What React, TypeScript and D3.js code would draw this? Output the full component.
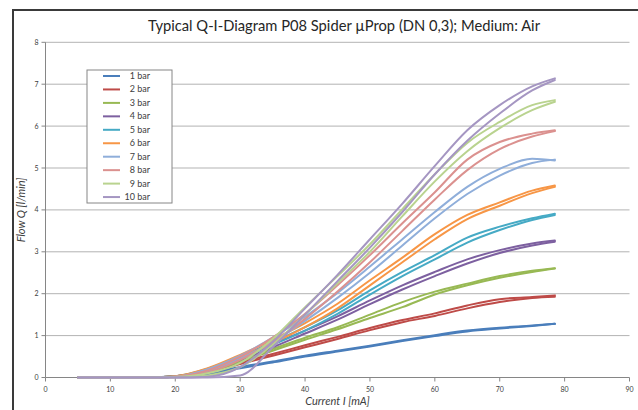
import React from "react";
import * as d3 from "d3";

const W = 638;
const H = 410;

const titleText = "Typical Q-I-Diagram P08 Spider µProp (DN 0,3); Medium: Air";
const xLabel = "Current I [mA]";
const yLabel = "Flow Q [l/min]";

const xTicks = [0, 10, 20, 30, 40, 50, 60, 70, 80, 90];
const yTicks = [0, 1, 2, 3, 4, 5, 6, 7, 8];

const seriesNames = ["1 bar", "2 bar", "3 bar", "4 bar", "5 bar", "6 bar", "7 bar", "8 bar", "9 bar", "10 bar"];
const seriesColors = ["#4A7EBB", "#BE4B48", "#98B954", "#7D60A0", "#46AAC5", "#F79646", "#8FAEDA", "#DB918F", "#B9D38F", "#A596C2"];

// current (mA) sample points
const current = [5, 15, 20, 25, 30, 35, 40, 45, 50, 55, 60, 65, 70, 75, 78.5];

// rising branch (lower curve) per series
const flowUp1 = [0, 0, 0.02, 0.08, 0.22, 0.36, 0.5, 0.62, 0.74, 0.87, 0.99, 1.1, 1.17, 1.23, 1.28];
const flowUp2 = [0, 0, 0.02, 0.12, 0.32, 0.52, 0.72, 0.92, 1.13, 1.32, 1.47, 1.65, 1.8, 1.9, 1.93];
const flowUp3 = [0, 0, 0.02, 0.14, 0.38, 0.64, 0.9, 1.15, 1.42, 1.68, 1.98, 2.2, 2.38, 2.52, 2.6];
const flowUp4 = [0, 0, 0.02, 0.15, 0.42, 0.72, 1.05, 1.38, 1.75, 2.1, 2.42, 2.72, 2.97, 3.15, 3.24];
const flowUp5 = [0, 0, 0.02, 0.17, 0.45, 0.78, 1.12, 1.52, 1.98, 2.42, 2.82, 3.22, 3.52, 3.76, 3.88];
const flowUp6 = [0, 0, 0.02, 0.18, 0.48, 0.82, 1.2, 1.65, 2.2, 2.75, 3.3, 3.78, 4.1, 4.4, 4.55];
const flowUp7 = [0, 0, 0.01, 0.15, 0.45, 0.85, 1.35, 1.9, 2.5, 3.15, 3.8, 4.38, 4.82, 5.12, 5.2];
const flowUp8 = [0, 0, 0.01, 0.12, 0.42, 0.85, 1.4, 2.05, 2.75, 3.5, 4.25, 4.95, 5.45, 5.75, 5.88];
const flowUp9 = [0, 0, 0, 0.05, 0.25, 0.78, 1.5, 2.25, 3.0, 3.85, 4.68, 5.4, 5.95, 6.38, 6.58];
const flowUp10 = [0, 0, 0, 0, 0.05, 0.72, 1.5, 2.3, 3.1, 3.95, 4.85, 5.65, 6.3, 6.85, 7.1];

// falling branch (upper curve) per series
const flowDown1 = [0, 0, 0.03, 0.1, 0.25, 0.38, 0.52, 0.64, 0.76, 0.89, 1.01, 1.12, 1.19, 1.24, 1.28];
const flowDown2 = [0, 0, 0.03, 0.15, 0.36, 0.56, 0.77, 0.97, 1.18, 1.37, 1.53, 1.72, 1.87, 1.92, 1.96];
const flowDown3 = [0, 0, 0.03, 0.17, 0.42, 0.68, 0.95, 1.2, 1.5, 1.8, 2.05, 2.24, 2.42, 2.55, 2.61];
const flowDown4 = [0, 0, 0.03, 0.19, 0.48, 0.8, 1.12, 1.46, 1.84, 2.2, 2.52, 2.82, 3.04, 3.2, 3.27];
const flowDown5 = [0, 0, 0.03, 0.21, 0.5, 0.84, 1.2, 1.6, 2.08, 2.52, 2.92, 3.34, 3.6, 3.8, 3.91];
const flowDown6 = [0, 0, 0.03, 0.22, 0.54, 0.9, 1.3, 1.76, 2.32, 2.86, 3.42, 3.88, 4.18, 4.46, 4.58];
const flowDown7 = [0, 0, 0.02, 0.2, 0.52, 0.95, 1.45, 2.02, 2.65, 3.3, 3.95, 4.55, 4.98, 5.22, 5.18];
const flowDown8 = [0, 0, 0.02, 0.17, 0.5, 0.95, 1.52, 2.2, 2.92, 3.68, 4.42, 5.2, 5.62, 5.82, 5.9];
const flowDown9 = [0, 0, 0.01, 0.1, 0.35, 0.92, 1.68, 2.42, 3.18, 4.02, 4.85, 5.6, 6.1, 6.5, 6.62];
const flowDown10 = [0, 0, 0, 0.02, 0.25, 0.85, 1.65, 2.45, 3.3, 4.15, 5.05, 5.9, 6.5, 6.95, 7.14];

const upBranches = [flowUp1, flowUp2, flowUp3, flowUp4, flowUp5, flowUp6, flowUp7, flowUp8, flowUp9, flowUp10];
const downBranches = [flowDown1, flowDown2, flowDown3, flowDown4, flowDown5, flowDown6, flowDown7, flowDown8, flowDown9, flowDown10];

export default function App() {
  const x = d3.scaleLinear().domain([0, 90]).range([45.5, 629.5]);
  const y = d3.scaleLinear().domain([0, 8]).range([377.5, 42.3]);

  const line = d3
    .line<[number, number]>()
    .x((d) => x(d[0]))
    .y((d) => y(d[1]))
    .curve(d3.curveMonotoneX);

  const legendX = 87;
  const legendY = 70;
  const legendW = 85;
  const legendH = 133;
  const rowH = 13.45;

  const axisColor = "#868686";
  const gridColor = "#B3B3B3";
  const textColor = "#404040";
  const font = "Lato, 'Open Sans', sans-serif";

  return (
    <svg
      width={W}
      height={H}
      style={{ position: "absolute", left: 0, top: 0, background: "#fff" }}
      fontFamily={font}
    >
      <rect x={0} y={0} width={W} height={H} fill="#fff" />
      {/* outer frame */}
      <rect x={13} y={10} width={700} height={500} fill="none" stroke="#3a3a3a" strokeWidth={2} />

      {/* title */}
      <text
        x={344}
        y={31}
        textAnchor="middle"
        fontSize={15}
        fill="#262626"
        textLength={392}
        lengthAdjust="spacingAndGlyphs"
      >
        {titleText}
      </text>

      {/* gridlines */}
      {yTicks.filter((t) => t > 0).map((t) => (
        <line key={"g" + t} x1={x(0)} x2={x(90)} y1={y(t)} y2={y(t)} stroke={gridColor} strokeWidth={1} />
      ))}

      {/* axes */}
      <line x1={x(0)} x2={x(0)} y1={y(0)} y2={y(8)} stroke={axisColor} strokeWidth={1} />
      <line x1={x(0)} x2={x(90)} y1={y(0)} y2={y(0)} stroke={axisColor} strokeWidth={1} />
      {yTicks.map((t) => (
        <g key={"yt" + t}>
          <line x1={x(0) - 4} x2={x(0)} y1={y(t)} y2={y(t)} stroke={axisColor} />
          <text x={x(0) - 7} y={y(t) + 2.5} textAnchor="end" fontSize={7} fill={textColor}>
            {t}
          </text>
        </g>
      ))}
      {xTicks.map((t) => (
        <g key={"xt" + t}>
          <line x1={x(t)} x2={x(t)} y1={y(0)} y2={y(0) + 4} stroke={axisColor} />
          <text x={x(t)} y={y(0) + 14} textAnchor="middle" fontSize={7} fill={textColor}>
            {t}
          </text>
        </g>
      ))}

      {/* axis titles */}
      <text
        transform={`translate(25,${(y(0) + y(8)) / 2}) rotate(-90)`}
        textAnchor="middle"
        fontSize={11}
        fontStyle="italic"
        fill={textColor}
      >
        {yLabel}
      </text>
      <text x={(x(0) + x(90)) / 2} y={405} textAnchor="middle" fontSize={11} fontStyle="italic" fill={textColor}>
        {xLabel}
      </text>

      {/* series */}
      {seriesNames.map((name, i) => {
        const up = current.map((c, k) => [c, upBranches[i][k]] as [number, number]);
        const down = current.map((c, k) => [c, downBranches[i][k]] as [number, number]);
        return (
          <g key={name} fill="none" stroke={seriesColors[i]} strokeWidth={2} strokeLinejoin="round" strokeLinecap="round">
            <path d={line(up) || ""} />
            <path d={line(down) || ""} />
          </g>
        );
      })}

      {/* legend */}
      <rect x={legendX} y={legendY} width={legendW} height={legendH} fill="#fff" stroke={axisColor} strokeWidth={1} />
      {seriesNames.map((name, i) => {
        const cy = legendY + 6 + i * rowH;
        return (
          <g key={"lg" + name}>
            <line x1={103} x2={120} y1={cy} y2={cy} stroke={seriesColors[i]} strokeWidth={2} />
            <text x={150} y={cy + 3} textAnchor="end" fontSize={9} fill={textColor}>
              {name}
            </text>
          </g>
        );
      })}
    </svg>
  );
}
